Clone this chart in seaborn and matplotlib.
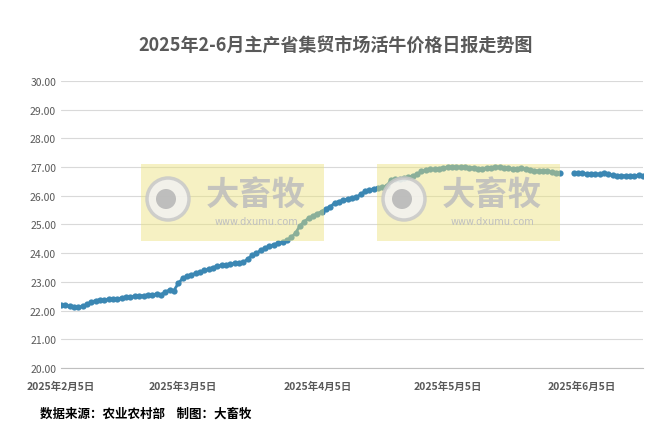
import pandas as pd
import numpy as np
import matplotlib.pyplot as plt
import seaborn as sns
from matplotlib.patches import Rectangle, Ellipse

# daily prices, yuan/kg
feb = [22.20, 22.18, 22.15, 22.12, 22.12, 22.15, 22.22, 22.30, 22.35, 22.38, 22.38, 22.40,
       22.42, 22.40, 22.45, 22.47, 22.48, 22.50, 22.52, 22.52, 22.55, 22.55, 22.58, 22.55]
mar = [22.65, 22.72, 22.70, 22.95, 23.12, 23.20, 23.25, 23.30, 23.35, 23.40, 23.45, 23.50,
       23.55, 23.58, 23.60, 23.62, 23.65, 23.65, 23.68, 23.80, 23.92, 24.00, 24.10, 24.18,
       24.25, 24.30, 24.35, 24.38, 24.45, 24.55, 24.70]
apr = [24.95, 25.10, 25.22, 25.30, 25.38, 25.45, 25.55, 25.62, 25.75, 25.80, 25.85, 25.88,
       25.92, 25.95, 26.05, 26.15, 26.20, 26.25, 26.28, 26.30, 26.35, 26.55, 26.58, 26.60,
       26.62, 26.65, 26.70, 26.75, 26.85, 26.90]
may = [26.92, 26.92, 26.95, 26.98, 27.00, 27.00, 27.00, 27.00, 27.00, 26.98, 26.98, 26.95,
       26.95, 26.97, 26.98, 27.00, 27.00, 26.98, 26.96, 26.95, 26.95, 26.97, 26.93, 26.90,
       26.88, 26.86, 26.85, 26.86, 26.83, 26.80, 26.80]
jun = [26.80, 26.78, 26.78, 26.77, 26.77, 26.76, 26.75, 26.80, 26.75, 26.72, 26.70, 26.70,
       26.70, 26.70, 26.70, 26.72, 26.70]

seg1 = pd.DataFrame({'date': pd.date_range('2025-02-05', periods=len(feb + mar + apr + may)),
                     'price': feb + mar + apr + may, 'seg': 1})
seg2 = pd.DataFrame({'date': pd.date_range('2025-06-03', periods=len(jun)), 'price': jun, 'seg': 2})
df = pd.concat([seg1, seg2])

sns.set_style('white')
plt.rcParams['font.family'] = ['Noto Sans CJK SC', 'DejaVu Sans']

fig = plt.figure(figsize=(6.71, 4.35), dpi=100)
ax = fig.add_axes([61 / 671, 1 - 369 / 435, 582 / 671, 287 / 435])

sns.lineplot(data=df, x='date', y='price', units='seg', estimator=None, color='#3b87b3',
             marker='o', markersize=4.5, markeredgewidth=0, linewidth=2, ax=ax, zorder=3)

ax.set_xlim(pd.Timestamp('2025-02-05'), pd.Timestamp('2025-06-19'))
ax.set_ylim(20, 30)
ax.set_yticks(np.arange(20, 30.01, 1))
ax.set_yticklabels([f'{v:.2f}' for v in np.arange(20, 30.01, 1)], fontsize=7.5, color='#595959')
ticks = pd.to_datetime(['2025-02-05', '2025-03-05', '2025-04-05', '2025-05-05', '2025-06-05'])
ax.set_xticks(ticks)
ax.set_xticklabels([f'2025年{d.month}月5日' for d in ticks], fontsize=7.5, color='#595959',
                   fontweight='bold')
ax.grid(axis='y', color='#d9d9d9', linewidth=0.8)
ax.tick_params(axis='x', length=3, color='#bfbfbf', pad=6)
ax.tick_params(axis='y', length=0)
for s in ['top', 'right', 'left']:
    ax.spines[s].set_visible(False)
ax.spines['bottom'].set_color('#bfbfbf')
ax.set_xlabel('')
ax.set_ylabel('')

# watermarks
for x0 in [141, 377]:
    fig.patches.append(Rectangle((x0 / 671, 1 - 242 / 435), 183 / 671, 77 / 435,
                                 transform=fig.transFigure, facecolor='#ece27a', alpha=0.45,
                                 edgecolor='none', zorder=5))
    fig.patches.append(Ellipse(((x0 + 27) / 671, 1 - 200 / 435), 42 / 671, 42 / 435,
                               transform=fig.transFigure, facecolor='#f2f2f2',
                               edgecolor='#c8c8c8', linewidth=2.5, alpha=0.85, zorder=6))
    fig.patches.append(Ellipse(((x0 + 25) / 671, 1 - 200 / 435), 20 / 671, 20 / 435,
                               transform=fig.transFigure, facecolor='#b5b5b5',
                               edgecolor='none', alpha=0.85, zorder=7))
    fig.text((x0 + 115) / 671, 1 - 195 / 435, '大畜牧', fontsize=24, fontweight='bold',
             color='#bdbdbd', alpha=0.85, ha='center', va='center', zorder=6)
    fig.text((x0 + 115) / 671, 1 - 222 / 435, 'www.dxumu.com', fontsize=7, color='#c0c0c0',
             ha='center', va='center', zorder=6, family='DejaVu Sans')

fig.text(0.5, 1 - 45 / 435, '2025年2-6月主产省集贸市场活牛价格日报走势图', fontsize=13,
         fontweight='bold', color='#595959', ha='center', va='center')
fig.text(40 / 671, 1 - 414 / 435, '数据来源：农业农村部    制图：大畜牧', fontsize=9,
         fontweight='bold', color='#000000', ha='left', va='center')

fig.savefig('out.png', dpi=100)
